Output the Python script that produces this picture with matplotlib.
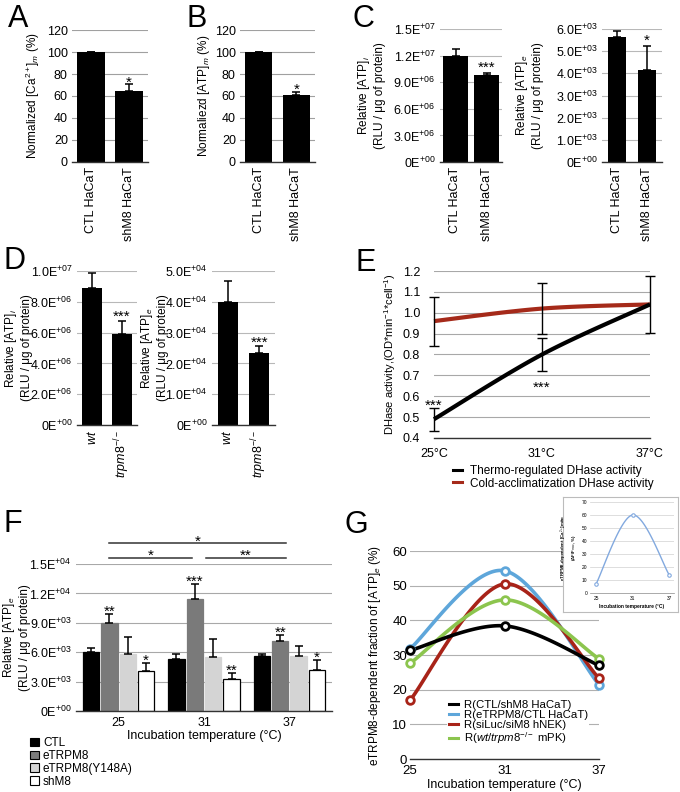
"""
Multi-panel figure: mitochondrial Ca2+/ATP, DHase activity and
eTRPM8-dependent ATP release (panels A-G).
"""

import numpy as np
import matplotlib
matplotlib.use("Agg")
import matplotlib.pyplot as plt
from matplotlib.lines import Line2D
from matplotlib.patches import Rectangle
from matplotlib.ticker import FuncFormatter

plt.rcParams["font.family"] = ["Liberation Sans", "DejaVu Sans"]
plt.rcParams["mathtext.fontset"] = "custom"
plt.rcParams["mathtext.rm"] = "Liberation Sans"
plt.rcParams["mathtext.it"] = "Liberation Sans:italic"
plt.rcParams["mathtext.bf"] = "Liberation Sans:bold"
plt.rcParams["mathtext.sf"] = "Liberation Sans"

W, H = 680, 792

# ════════════════════════════════════════════════════════════
# Data
# ════════════════════════════════════════════════════════════

hacat_groups = ["CTL HaCaT", "shM8 HaCaT"]
mouse_groups = [r"$wt$", r"$trpm8^{-/-}$"]

# A
ca_mito = [100, 65]
ca_mito_err = [0.4, 6.0]
ca_mito_sig = ["", "*"]
# B
atp_mito = [100, 61]
atp_mito_err = [0.4, 2.5]
atp_mito_sig = ["", "*"]
# C
hacat_atp_i = [1.19e7, 9.8e6]
hacat_atp_i_err = [0.8e6, 0.25e6]
hacat_atp_i_sig = ["", "***"]
hacat_atp_e = [5.62e3, 4.17e3]
hacat_atp_e_err = [0.28e3, 1.07e3]
hacat_atp_e_sig = ["", "*"]
# D
mouse_atp_i = [8.9e6, 5.9e6]
mouse_atp_i_err = [0.95e6, 0.85e6]
mouse_atp_i_sig = ["", "***"]
mouse_atp_e = [4.0e4, 2.35e4]
mouse_atp_e_err = [0.67e4, 0.22e4]
mouse_atp_e_sig = ["", "***"]

# E
dh_temps = [25, 31, 37]
dh_temp_labels = ["25°C", "31°C", "37°C"]
dh_thermo = [0.49, 0.80, 1.04]
dh_thermo_err = [0.055, 0.077, 0.135]
dh_thermo_sig = ["***", "***", ""]
dh_cold = [0.96, 1.02, 1.04]
dh_cold_err = [0.117, 0.122, 0.0]

# F
f_temps = ["25", "31", "37"]
f_series = ["CTL", "eTRPM8", "eTRPM8(Y148A)", "shM8"]
f_ctl = [6.0e3, 5.27e3, 5.58e3]
f_ctl_err = [0.46e3, 0.50e3, 0.20e3]
f_etrpm8 = [9.0e3, 11.4e3, 7.18e3]
f_etrpm8_err = [0.90e3, 1.56e3, 0.58e3]
f_y148a = [5.8e3, 5.48e3, 5.6e3]
f_y148a_err = [1.80e3, 1.82e3, 1.07e3]
f_shm8 = [4.1e3, 3.23e3, 4.18e3]
f_shm8_err = [0.76e3, 0.61e3, 1.02e3]
f_etrpm8_sig = ["**", "***", "**"]
f_shm8_sig = ["*", "**", "*"]
f_brackets = [(0, 1, "*"), (1, 2, "**"), (0, 2, "*")]

# G
g_temps = [25, 31, 37]
g_ctl_shm8 = [31.3, 38.4, 27.0]
g_etrpm8_ctl = [31.8, 54.3, 21.4]
g_siluc_sim8 = [16.9, 50.5, 23.3]
g_wt_trpm8 = [27.6, 45.9, 28.9]
g_labels = ["R(CTL/shM8 HaCaT)", "R(eTRPM8/CTL HaCaT)",
            "R(siLuc/siM8 hNEK)", r"R($wt$/$trpm8^{-/-}$ mPK)"]
inset_ca = [7, 60, 14]

# ════════════════════════════════════════════════════════════
# Helpers
# ════════════════════════════════════════════════════════════

fig = plt.figure(figsize=(W / 100, H / 100), dpi=100)

STAR_FS = 11


def box(x0, y0, x1, y1):
    """Axes from pixel box (top-left origin)."""
    return fig.add_axes([x0 / W, 1 - y1 / H, (x1 - x0) / W, (y1 - y0) / H])


def ylabel_at(ax, x_right_px):
    """Put the right edge of the y label at a pixel column."""
    b = ax.get_position()
    ax.yaxis.set_label_coords((x_right_px / W - b.x0) / b.width, 0.5)


def sci_label(v, pos=None):
    if abs(v) < 1e-12:
        return r"0E$^{+00}$"
    e = int(np.floor(np.log10(abs(v)) + 1e-9))
    return f"{v / 10 ** e:.1f}E$^{{+{e:02d}}}$"


def plain_axes(ax, grid_color="#a0a0a0"):
    ax.grid(axis="y", color=grid_color, lw=0.8)
    ax.set_axisbelow(True)
    for s in ["top", "right", "left"]:
        ax.spines[s].set_visible(False)
    ax.spines["bottom"].set_color("#333333")
    ax.spines["bottom"].set_linewidth(1.0)
    ax.tick_params(axis="both", length=0, labelsize=9)
    ax.tick_params(axis="y", pad=3)


def star(ax, x, y, s, dy=-1.0):
    ax.annotate(s, (x, y), xytext=(0, dy), textcoords="offset points",
                ha="center", va="baseline", fontsize=STAR_FS,
                annotation_clip=False)


def two_bar(ax, labels, vals, errs, sigs, width, ymax, step, ylabel,
            sci=False, grid_color="#a0a0a0", star_dy=-1.0):
    x = np.arange(len(vals))
    ax.bar(x, vals, width, color="black", zorder=2)
    ax.errorbar(x, vals, yerr=[np.zeros(len(errs)), errs], fmt="none",
                ecolor="black", elinewidth=1.1, capsize=3, capthick=1.1,
                zorder=3)
    for xi, v, e, s in zip(x, vals, errs, sigs):
        if s:
            star(ax, xi, v + e, s, star_dy)
    ax.set_xlim(-0.5, 1.5)
    ax.set_ylim(0, ymax)
    ax.set_yticks(np.arange(0, ymax + step / 2, step))
    if sci:
        ax.yaxis.set_major_formatter(FuncFormatter(sci_label))
    ax.set_xticks(x)
    ax.set_xticklabels(labels, rotation=90, fontsize=8)
    plain_axes(ax, grid_color)
    ax.set_ylabel(ylabel, fontsize=8.5)


def smooth(xs, ys, n=60):
    """Catmull-Rom style curve through the given points (Excel-like)."""
    P = np.column_stack([np.asarray(xs, float), np.asarray(ys, float)])
    m = len(P)
    T = np.zeros_like(P)
    for i in range(m):
        T[i] = (P[min(i + 1, m - 1)] - P[max(i - 1, 0)]) / 2
    out = []
    t = np.linspace(0, 1, n)[:, None]
    for i in range(m - 1):
        b0, b3 = P[i], P[i + 1]
        b1, b2 = b0 + T[i] / 3, b3 - T[i + 1] / 3
        seg = ((1 - t) ** 3) * b0 + 3 * ((1 - t) ** 2) * t * b1 \
            + 3 * (1 - t) * t ** 2 * b2 + t ** 3 * b3
        out.append(seg if i == 0 else seg[1:])
    out = np.vstack(out)
    return out[:, 0], out[:, 1]


def panel_letter(x, y_base, s):
    fig.text(x / W, 1 - y_base / H, s, fontsize=22, va="baseline", ha="left")


# ════════════════════════════════════════════════════════════
# Panels A-D
# ════════════════════════════════════════════════════════════

axA = box(72, 30, 148, 162)
two_bar(axA, hacat_groups, ca_mito, ca_mito_err, ca_mito_sig, 0.72, 120, 20,
        r"Normalized [Ca$^{2+}$]$_m$ (%)", star_dy=-2.0)
ylabel_at(axA, 42)

axB = box(240, 30, 315, 162)
two_bar(axB, hacat_groups, atp_mito, atp_mito_err, atp_mito_sig, 0.72, 120, 20,
        r"Normaliezd [ATP]$_m$ (%)", star_dy=-1.5)
ylabel_at(axB, 212)

axC1 = box(440, 29, 502, 162)
two_bar(axC1, hacat_groups, hacat_atp_i, hacat_atp_i_err, hacat_atp_i_sig,
        0.82, 1.5e7, 3e6, "Relative [ATP]$_i$\n(RLU / μg of protein)",
        sci=True, grid_color="#b8b8b8", star_dy=0.5)
ylabel_at(axC1, 386)

axC2 = box(602, 29, 662, 162)
two_bar(axC2, hacat_groups, hacat_atp_e, hacat_atp_e_err, hacat_atp_e_sig,
        0.62, 6e3, 1e3, "Relative [ATP]$_e$\n(RLU / μg of protein)",
        sci=True, grid_color="#b8b8b8", star_dy=1.0)
ylabel_at(axC2, 544)

axD1 = box(77, 271, 137, 425)
two_bar(axD1, mouse_groups, mouse_atp_i, mouse_atp_i_err, mouse_atp_i_sig,
        0.67, 1e7, 2e6, "Relative [ATP]$_i$\n(RLU / μg of protein)",
        sci=True, grid_color="#b8b8b8", star_dy=0.5)
ylabel_at(axD1, 33)

axD2 = box(212, 271, 275, 425)
two_bar(axD2, mouse_groups, mouse_atp_e, mouse_atp_e_err, mouse_atp_e_sig,
        0.63, 5e4, 1e4, "Relative [ATP]$_e$\n(RLU / μg of protein)",
        sci=True, grid_color="#b8b8b8", star_dy=-1.0)
ylabel_at(axD2, 169)

# ════════════════════════════════════════════════════════════
# Panel E
# ════════════════════════════════════════════════════════════

axE = box(434, 271, 650, 438)
red_e = "#a52a1a"
sx, sy = smooth(dh_temps, dh_cold)
axE.plot(sx, sy, color=red_e, lw=3, clip_on=False, zorder=3,
         solid_capstyle="butt")
sx, sy = smooth(dh_temps, dh_thermo)
axE.plot(sx, sy, color="black", lw=3, clip_on=False, zorder=4,
         solid_capstyle="butt")
axE.errorbar(dh_temps[:2], dh_cold[:2], yerr=dh_cold_err[:2], fmt="none",
             ecolor="black", elinewidth=1, capsize=3.5, capthick=1,
             clip_on=False, zorder=5)
axE.errorbar(dh_temps, dh_thermo, yerr=dh_thermo_err, fmt="none",
             ecolor="black", elinewidth=1, capsize=3.5, capthick=1,
             clip_on=False, zorder=5)
# stars: above the bar at 25 °C, below the bar at 31 °C
star(axE, dh_temps[0], dh_thermo[0] + dh_thermo_err[0], dh_thermo_sig[0], -1.5)
star(axE, dh_temps[1], dh_thermo[1] - dh_thermo_err[1], dh_thermo_sig[1], -15)
axE.set_xlim(25, 37)
axE.set_ylim(0.4, 1.2)
axE.set_yticks(np.arange(0.4, 1.21, 0.1))
axE.yaxis.set_major_formatter(FuncFormatter(lambda v, p: f"{v:.1f}"))
axE.set_xticks(dh_temps)
axE.set_xticklabels(dh_temp_labels)
plain_axes(axE, "#a8a8a8")
axE.tick_params(axis="x", pad=7)
axE.tick_params(axis="y", pad=10)
axE.set_ylabel(r"DHase activity,(OD*min$^{-1}$*cell$^{-1}$)", fontsize=8)
ylabel_at(axE, 398)

fig.legend(handles=[Line2D([], [], color="black", lw=2.2),
                    Line2D([], [], color=red_e, lw=2.2)],
           labels=["Thermo-regulated DHase activity",
                   "Cold-acclimatization DHase activity"],
           loc="upper left", bbox_to_anchor=(453 / W, 1 - 465 / H),
           frameon=False, fontsize=8.5, handlelength=0.8, handletextpad=0.6,
           labelspacing=0.05, borderpad=0, borderaxespad=0)

# ════════════════════════════════════════════════════════════
# Panel F
# ════════════════════════════════════════════════════════════

axF = box(76, 564, 332, 711)
xg = np.arange(len(f_temps))
bw, slot = 0.19, 0.215
f_vals = [f_ctl, f_etrpm8, f_y148a, f_shm8]
f_errs = [f_ctl_err, f_etrpm8_err, f_y148a_err, f_shm8_err]
f_colors = ["black", "#7a7a7a", "#d4d4d4", "white"]
for k, (vals, errs, col) in enumerate(zip(f_vals, f_errs, f_colors)):
    xs = xg + (k - 1.5) * slot
    axF.bar(xs, vals, bw, color=col,
            edgecolor="black" if col == "white" else col, lw=0.9, zorder=2)
    axF.errorbar(xs, vals, yerr=[np.zeros(3), errs], fmt="none",
                 ecolor="black", elinewidth=1.1, capsize=3, capthick=1.1,
                 zorder=3)
for i in range(3):
    star(axF, xg[i] - 0.5 * slot, f_etrpm8[i] + f_etrpm8_err[i], f_etrpm8_sig[i])
    star(axF, xg[i] + 1.5 * slot, f_shm8[i] + f_shm8_err[i], f_shm8_sig[i])

# comparison lines between eTRPM8 groups
etr_x = xg - 0.5 * slot
levels = {1: 15.6e3, 2: 17.1e3}
for a, b, s in f_brackets:
    if b - a == 2:
        x0, x1, y = etr_x[a] - 0.01, etr_x[b] + 0.07, levels[2]
    elif a == 0:
        x0, x1, y = etr_x[a] - 0.01, etr_x[b] - 0.03, levels[1]
    else:
        x0, x1, y = etr_x[a] + 0.13, etr_x[b] + 0.07, levels[1]
    axF.plot([x0, x1], [y, y], color="#333333", lw=1.1, clip_on=False)
    star(axF, (x0 + x1) / 2, y, s, -1.5)

axF.set_xlim(-0.5, 2.5)
axF.set_ylim(0, 1.5e4)
axF.set_yticks(np.arange(0, 1.51e4, 3e3))
axF.yaxis.set_major_formatter(FuncFormatter(sci_label))
axF.set_xticks(xg)
axF.set_xticklabels(f_temps)
plain_axes(axF, "#a8a8a8")
axF.tick_params(axis="x", pad=4)
axF.set_xlabel("Incubation temperature (°C)", fontsize=9, labelpad=1)
axF.set_ylabel("Relative [ATP]$_e$\n(RLU / μg of protein)", fontsize=8.5)
ylabel_at(axF, 31)

fig.legend(handles=[Rectangle((0, 0), 1, 1, fc=c, ec="black", lw=0.8)
                    for c in f_colors],
           labels=f_series, loc="upper left",
           bbox_to_anchor=(30 / W, 1 - 737 / H), frameon=False, fontsize=8.5,
           handlelength=0.75, handleheight=0.75, handletextpad=0.35,
           labelspacing=0.08, borderpad=0, borderaxespad=0)

# ════════════════════════════════════════════════════════════
# Panel G
# ════════════════════════════════════════════════════════════

axG = box(410, 551, 599, 759)
g_series = [g_etrpm8_ctl, g_siluc_sim8, g_wt_trpm8, g_ctl_shm8]
g_colors = ["#5ea6da", "#a82318", "#8cc54e", "black"]
for vals, col in zip(g_series, g_colors):
    sx, sy = smooth(g_temps, vals)
    axG.plot(sx, sy, color=col, lw=2.6, clip_on=False, zorder=3)
    axG.plot(g_temps, vals, "o", ms=5.5, mfc="white", mec=col, mew=2,
             clip_on=False, zorder=4)
axG.set_xlim(25, 37)
axG.set_ylim(0, 60)
axG.set_yticks(np.arange(0, 61, 10))
axG.set_xticks(g_temps)
plain_axes(axG, "#b0b0b0")
axG.tick_params(axis="x", labelsize=9.5, pad=4)
axG.tick_params(axis="y", labelsize=9.5, pad=2)
axG.set_xlabel("Incubation temperature (°C)", fontsize=9, labelpad=2)
axG.set_ylabel("eTRPM8-dependent fraction of [ATP]$_e$ (%)", fontsize=8.5)
ylabel_at(axG, 383)
leg = axG.legend(handles=[Line2D([], [], color=c, lw=2.2)
                          for c in ["black", "#5ea6da", "#a82318", "#8cc54e"]],
                 labels=g_labels, loc="upper left",
                 bbox_to_anchor=(37 / 189, 61 / 208), frameon=True,
                 fontsize=8.2, handlelength=0.8, handletextpad=0.5,
                 labelspacing=0.0, borderpad=0.15, borderaxespad=0)
leg.get_frame().set_edgecolor("none")
leg.get_frame().set_facecolor("white")
leg.get_frame().set_alpha(1)

# inset
axI_bg = box(563, 497, 678, 612)
axI_bg.set_xticks([])
axI_bg.set_yticks([])
for s in axI_bg.spines.values():
    s.set_color("#bcbcbc")
    s.set_linewidth(0.8)

axI = box(590, 502, 674, 593)
sx, sy = smooth(g_temps, inset_ca)
axI.plot(sx, sy, color="#82a9df", lw=1.0, zorder=3)
axI.plot(g_temps, inset_ca, "o", ms=2.5, mfc="white", mec="#82a9df",
         mew=0.8, zorder=4, clip_on=False)
axI.set_xlim(24, 37.8)
axI.set_ylim(0, 70)
axI.set_yticks(np.arange(0, 71, 10))
axI.set_xticks(g_temps)
axI.grid(axis="y", color="#d0d0d0", lw=0.5)
axI.set_axisbelow(True)
for s in ["top", "right", "left"]:
    axI.spines[s].set_visible(False)
axI.spines["bottom"].set_color("#888888")
axI.spines["bottom"].set_linewidth(0.5)
axI.tick_params(axis="both", length=0, labelsize=3.5, pad=2)
axI.set_xlabel("Incubation temperature (°C)", fontsize=3.5, fontweight="bold",
               labelpad=2)
axI.set_ylabel("eTRPM8-dependent [Ca$^{2+}$]mito\n(ΔF/F$_{max}$, %)",
               fontsize=3.2, fontweight="bold", labelpad=3)

# panel letters
panel_letter(8, 27, "A")
panel_letter(186, 27, "B")
panel_letter(352, 27, "C")
panel_letter(4, 269, "D")
panel_letter(355, 271, "E")
panel_letter(4, 532, "F")
panel_letter(345, 533, "G")

fig.savefig("out.png", dpi=100)
